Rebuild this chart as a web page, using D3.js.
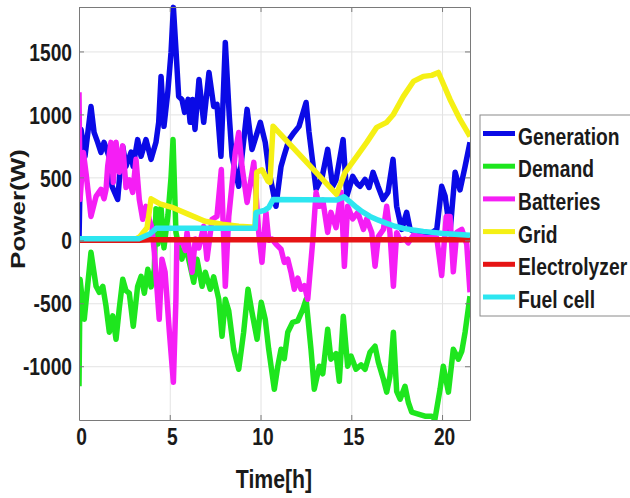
<!DOCTYPE html>
<html>
<head>
<meta charset="utf-8">
<script src="https://cdn.jsdelivr.net/npm/d3@7"></script>
<style>
  body { margin: 0; background: #fff; }
  text { font-family: "Liberation Sans", Arial, sans-serif; font-weight: bold; fill: #1a1a1a; }
</style>
</head>
<body>
<div id="chart"></div>
<script>
// series (time in hours, power in W)
var genT = [0, 0.11, 0.33, 0.66, 0.83, 1.03, 1.21, 1.38, 1.65, 1.82, 2.13, 2.26, 2.41, 2.59, 2.87, 2.98, 3.23, 3.42, 3.69, 3.97, 4.24, 4.39, 4.52, 4.68, 4.89, 5.07, 5.2, 5.34, 5.49, 5.67, 5.82, 6.01, 6.12, 6.26, 6.39, 6.61, 6.87, 7.16, 7.42, 7.6, 7.82, 8.06, 8.28, 8.43, 8.8, 9.26, 9.53, 9.99, 10.26, 10.45, 10.85, 11.13, 11.29, 11.57, 11.85, 12.12, 12.51, 12.67, 13.06, 13.39, 13.7, 13.98, 14.16, 14.55, 14.75, 15.08, 15.32, 15.48, 15.76, 15.98, 16.2, 16.47, 16.75, 17.02, 17.3, 17.5, 17.78, 18.05, 18.24, 18.57, 19.16, 19.71, 19.98, 20.17, 20.44, 20.72, 20.99, 21.27, 21.54];
var genV = [0, 880, 667, 1063, 857, 778, 698, 778, 667, 429, 325, 540, 746, 587, 700, 587, 800, 667, 800, 643, 778, 937, 1302, 905, 1175, 1492, 1850, 1516, 1143, 1119, 1016, 1119, 937, 1119, 881, 1278, 937, 1333, 1063, 1080, 667, 1571, 984, 667, 429, 1040, 722, 937, 778, 563, 270, 587, 667, 800, 857, 905, 1095, 860, 405, 500, 722, 429, 480, 800, 349, 508, 450, 429, 484, 420, 540, 430, 325, 380, 643, 270, 87, 222, 87, 60, 32, 87, 429, 350, 63, 540, 400, 587, 778];

var demT = [0, 0.06, 0.29, 0.66, 0.94, 1.12, 1.31, 1.49, 1.67, 1.86, 2.04, 2.22, 2.41, 2.59, 2.77, 2.99, 3.23, 3.42, 3.6, 3.79, 3.97, 4.15, 4.24, 4.35, 4.52, 4.68, 4.9, 5.07, 5.18, 5.34, 5.49, 5.67, 5.86, 6.13, 6.32, 6.5, 6.78, 6.96, 7.23, 7.42, 7.7, 7.88, 8.06, 8.25, 8.52, 8.8, 9.07, 9.31, 9.53, 9.81, 10.04, 10.26, 10.45, 10.76, 10.95, 11.13, 11.31, 11.5, 11.77, 12.05, 12.33, 12.51, 12.78, 12.96, 13.24, 13.43, 13.7, 13.88, 14.16, 14.34, 14.56, 14.8, 14.99, 15.26, 15.54, 15.76, 16.03, 16.31, 16.49, 16.77, 16.95, 17.13, 17.32, 17.5, 17.69, 17.96, 18.14, 18.33, 18.69, 19.06, 19.43, 19.61, 19.89, 20.07, 20.35, 20.62, 20.9, 21.09, 21.27, 21.54];
var demV = [-1159, -310, -627, -95, -365, -413, -365, -524, -730, -600, -786, -540, -310, -400, -420, -683, -365, -286, -420, -230, -370, -230, 250, -30, 260, -60, 200, 500, 800, 63, -48, -150, -40, -206, -333, -150, -365, -254, -389, -290, -468, -762, -468, -560, -865, -1024, -730, -389, -571, -786, -492, -627, -865, -1183, -1000, -865, -940, -730, -651, -640, -548, -468, -865, -1183, -1000, -1060, -706, -944, -900, -1120, -603, -1000, -920, -1024, -990, -1024, -889, -841, -968, -1103, -1206, -1080, -730, -1200, -1262, -1159, -1286, -1365, -1380, -1397, -1397, -1420, -1183, -1000, -1206, -865, -944, -880, -730, -444];

var batT = [0, 0.06, 0.24, 0.39, 0.66, 0.94, 1.21, 1.38, 1.49, 1.58, 1.76, 1.89, 2.04, 2.22, 2.41, 2.59, 2.77, 2.96, 3.14, 3.32, 3.51, 3.69, 3.87, 4.02, 4.15, 4.42, 4.57, 4.74, 4.98, 5.2, 5.34, 5.39, 5.67, 5.86, 5.95, 6.23, 6.41, 6.6, 6.87, 7.05, 7.33, 7.6, 7.84, 8.06, 8.25, 8.61, 8.8, 8.98, 9.26, 9.63, 9.9, 10.08, 10.3, 10.45, 10.63, 10.85, 11.13, 11.31, 11.5, 11.68, 11.86, 12.05, 12.23, 12.42, 12.6, 12.88, 13.06, 13.24, 13.43, 13.7, 13.88, 14.16, 14.44, 14.62, 14.8, 15.08, 15.36, 15.67, 15.85, 16.13, 16.31, 16.49, 16.77, 16.95, 17.13, 17.32, 17.5, 17.69, 17.96, 18.14, 18.42, 19.16, 19.71, 19.98, 20.23, 20.44, 20.62, 20.81, 21.09, 21.36, 21.54];
var batV = [1175, 325, 698, 530, 190, 349, 405, 330, 405, 587, 778, 460, 778, 540, 750, 420, 480, 380, 643, 325, 167, 270, 167, 100, -95, -627, -150, -250, -730, -1127, -468, -16, 0, -80, 63, -254, 10, -60, 111, -150, 167, 190, 563, -365, 190, 698, 857, 587, 301, 619, 63, -175, 222, 0, 10, -30, -71, -175, -150, -254, -389, -300, -389, -360, -468, 0, 381, 270, 320, 63, 222, 100, 381, -206, 270, 170, 222, 87, 170, 60, -206, 30, 87, 270, 60, -365, 60, 0, 10, -20, 40, 20, 20, -280, 190, 190, -250, 63, 87, -30, -413];

var gridT = [0, 2.98, 3.36, 3.75, 3.97, 4.46, 5.12, 6.04, 6.94, 7.88, 8.8, 9.7, 9.79, 10.08, 10.41, 10.52, 10.69, 10.8, 14.19, 14.66, 15.3, 15.85, 16.4, 16.95, 17.32, 17.87, 18.42, 18.97, 19.43, 19.8, 20.44, 20.99, 21.54];
var gridV = [0, 0, 30, 100, 330, 290, 262, 206, 151, 127, 111, 103, 540, 560, 470, 460, 905, 890, 365, 540, 667, 778, 897, 937, 1000, 1143, 1262, 1302, 1310, 1333, 1119, 960, 825];

var elecT = [0, 3.3, 3.9, 21.54];
var elecV = [0, 0, 5, 5];

var fuelT = [0, 3.3, 3.9, 4.25, 9.7, 9.75, 10.25, 10.45, 10.7, 14.2, 14.6, 14.9, 15.3, 15.6, 16.03, 16.5, 16.95, 17.4, 17.87, 18.4, 18.97, 20.07, 21.54];
var fuelV = [12, 12, 50, 95, 95, 220, 240, 260, 325, 320, 345, 310, 260, 228, 190, 160, 135, 112, 95, 82, 71, 55, 40];

var names = ["Generation", "Demand", "Batteries", "Grid", "Electrolyzer", "Fuel cell"];
var colors = ["#0a0ae6", "#1ee61e", "#f51ef5", "#f5f014", "#e61414", "#2de6f0"];
var xTicks = [0, 5, 10, 15, 20];
var yTicks = [-1000, -500, 0, 500, 1000, 1500];

var w = 630, h = 498;
var padL = 79, padR = 470, padT = 7, padB = 420;

var svg = d3.select("#chart").append("svg").attr("width", w).attr("height", h);

var xScale = d3.scaleLinear().domain([0, 21.54]).range([padL, padR]);
var yScale = d3.scaleLinear().domain([-1427, 1853]).range([padB, padT]);

// plain labels: no thousands comma, ascii hyphen for negatives
var plain = function(d) { return String(d); };

// grid lines
svg.append("g").attr("transform", "translate(0," + padB + ")")
    .call(d3.axisBottom(xScale).tickValues(xTicks).tickSize(-(padB - padT)).tickFormat(""))
    .call(function(g) { g.select(".domain").remove(); g.selectAll("line").attr("stroke", "#e3e3e3"); });
svg.append("g").attr("transform", "translate(" + padL + ",0)")
    .call(d3.axisLeft(yScale).tickValues(yTicks).tickSize(-(padR - padL)).tickFormat(""))
    .call(function(g) { g.select(".domain").remove(); g.selectAll("line").attr("stroke", "#e3e3e3"); });

svg.append("clipPath").attr("id", "plotclip").append("rect")
    .attr("x", padL).attr("y", padT - 3).attr("width", padR - padL).attr("height", padB - padT + 3);

var line = d3.line()
    .x(function(d) { return xScale(d[0]); })
    .y(function(d) { return yScale(d[1]); });

var series = [
    d3.zip(genT, genV),
    d3.zip(demT, demV),
    d3.zip(batT, batV),
    d3.zip(gridT, gridV),
    d3.zip(elecT, elecV),
    d3.zip(fuelT, fuelV)
];

svg.append("g").attr("clip-path", "url(#plotclip)")
    .selectAll("path").data(series).enter().append("path")
    .attr("d", line)
    .attr("fill", "none")
    .attr("stroke", function(d, i) { return colors[i]; })
    .attr("stroke-width", 5.5)
    .attr("stroke-linejoin", "round");

// axes box, ticks pointing inwards
function styleAxis(g) {
    g.select(".domain").attr("stroke", "#7a7a7a");
    g.selectAll(".tick line").attr("stroke", "#7a7a7a");
}
svg.append("g").attr("transform", "translate(0," + padB + ")")
    .call(d3.axisBottom(xScale).tickValues(xTicks).tickFormat(plain).tickSizeInner(-5).tickSizeOuter(0))
    .call(styleAxis)
    .call(function(g) {
        g.selectAll("text").attr("y", 0).attr("dy", 0)
            .attr("transform", "translate(2,25) scale(0.8,1)")
            .style("font-size", "24px").style("fill", "#1a1a1a")
            .style("font-family", "'Liberation Sans', Arial, sans-serif");
    });
svg.append("g").attr("transform", "translate(" + padL + ",0)")
    .call(d3.axisLeft(yScale).tickValues(yTicks).tickFormat(plain).tickSizeInner(-5).tickSizeOuter(0))
    .call(styleAxis)
    .call(function(g) {
        g.selectAll("text").attr("x", 0).attr("dy", "0.36em")
            .attr("transform", "translate(-7,0) scale(0.8,1)")
            .style("font-size", "24px").style("fill", "#1a1a1a")
            .style("font-family", "'Liberation Sans', Arial, sans-serif");
    });
svg.append("g").attr("transform", "translate(0," + padT + ")")
    .call(d3.axisTop(xScale).tickValues(xTicks).tickSizeInner(-5).tickSizeOuter(0).tickFormat(""))
    .call(styleAxis);
svg.append("g").attr("transform", "translate(" + padR + ",0)")
    .call(d3.axisRight(yScale).tickValues(yTicks).tickSizeInner(-5).tickSizeOuter(0).tickFormat(""))
    .call(styleAxis);

// axis titles
svg.append("text")
    .attr("text-anchor", "middle")
    .attr("transform", "translate(274,488) scale(0.85,1)")
    .style("font-size", "25px")
    .text("Time[h]");

svg.append("text")
    .attr("text-anchor", "middle")
    .attr("transform", "translate(25,209) rotate(-90) scale(1,0.8)")
    .style("font-size", "26px")
    .text("Power(W)");

// legend
var legend = svg.append("g");
legend.append("rect")
    .attr("x", 480).attr("y", 115).attr("width", 170).attr("height", 201)
    .attr("fill", "#fff").attr("stroke", "#8a8a8a");
names.forEach(function(name, i) {
    var ly = 133.5 + i * 32.7;
    legend.append("line")
        .attr("x1", 483).attr("x2", 515).attr("y1", ly).attr("y2", ly)
        .attr("stroke", colors[i]).attr("stroke-width", 5);
    legend.append("text")
        .attr("transform", "translate(518," + (ly + 11) + ") scale(0.82,1)")
        .style("font-size", "23.5px")
        .text(name);
});
</script>
</body>
</html>
